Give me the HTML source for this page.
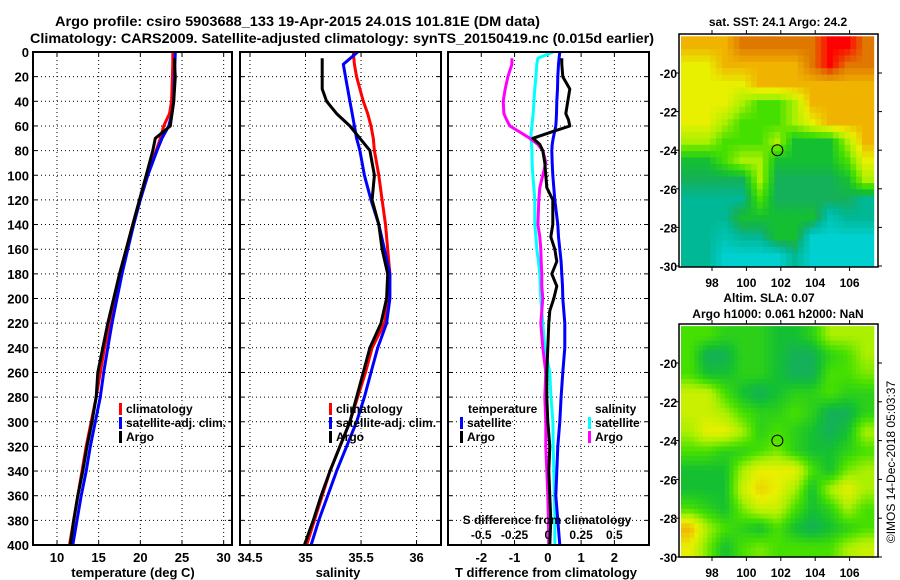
<!DOCTYPE html>
<html><head><meta charset="utf-8"><style>
html,body{margin:0;padding:0;background:#fff;}
svg{display:block;font-family:"Liberation Sans",Arial,sans-serif;font-weight:bold;}
</style></head><body>
<svg id="chart" width="900" height="580" viewBox="0 0 900 580" xmlns="http://www.w3.org/2000/svg">
<text x="55" y="26" font-size="14" textLength="485" lengthAdjust="spacingAndGlyphs">Argo profile: csiro 5903688_133 19-Apr-2015 24.01S 101.81E (DM data)</text>
<text x="30" y="43" font-size="14" textLength="624" lengthAdjust="spacingAndGlyphs">Climatology: CARS2009. Satellite-adjusted climatology: synTS_20150419.nc (0.015d earlier)</text>
<text x="778" y="26" font-size="12" text-anchor="middle">sat. SST: 24.1 Argo: 24.2</text>
<text x="769" y="302" font-size="12" text-anchor="middle">Altim. SLA: 0.07</text>
<text x="778" y="318" font-size="12" text-anchor="middle">Argo h1000: 0.061 h2000: NaN</text>
<text transform="translate(895,462) rotate(-90)" font-size="12" font-weight="normal" text-anchor="middle">©IMOS 14-Dec-2018 05:03:37</text>
<g id="layer"></g>
</svg>
<script>
// ---- profile data ----
const depthLevels = [0,10,20,30,40,50,60,70,80,100,120,140,160,180,200,220,240,260,280,300,320,340,360,380,400];
const argoDepths = [5,10,20,30,40,50,60,70,80,100,120,140,160,180,200,220,240,260,280,300,320,340,360,380,400];
const tempClim = [23.9,23.9,23.85,23.8,23.75,23.5,22.8,22.4,21.9,20.8,19.9,19.1,18.3,17.6,16.9,16.3,15.7,15.2,14.7,14.1,13.5,13.0,12.5,12.0,11.5];
const tempSat  = [24.2,24.15,24.1,24.05,24.0,23.8,23.4,22.6,22.0,20.9,20.0,19.2,18.5,17.8,17.2,16.6,16.1,15.6,15.2,14.6,14.0,13.5,12.9,12.4,11.9];
const tempArgo = [24.1,24.1,24.2,24.1,24.0,23.8,23.6,21.8,21.5,20.7,19.9,19.1,18.3,17.5,16.8,16.1,15.5,14.9,14.7,14.2,13.6,13.1,12.5,12.0,11.6];
const salClim = [35.43,35.44,35.46,35.49,35.52,35.56,35.59,35.61,35.62,35.66,35.69,35.72,35.74,35.76,35.75,35.71,35.60,35.54,35.47,35.40,35.31,35.22,35.15,35.08,35.01];
const salSat  = [35.47,35.34,35.36,35.38,35.40,35.42,35.44,35.46,35.49,35.53,35.59,35.66,35.71,35.76,35.76,35.73,35.65,35.59,35.53,35.46,35.37,35.28,35.20,35.12,35.05];
const salArgo = [35.15,35.15,35.15,35.15,35.19,35.28,35.40,35.49,35.58,35.62,35.60,35.66,35.69,35.74,35.73,35.68,35.58,35.52,35.46,35.40,35.31,35.22,35.14,35.07,34.99];
// difference panel
const diffDepths = [0,5,10,20,30,40,50,55,60,65,70,75,80,90,100,110,120,140,150,160,170,180,190,200,210,220,240,260,280,300,320,340,360,380,400];
const tDiffSat  = [0.36,0.34,0.32,0.30,0.29,0.27,0.26,0.25,0.24,0.2,0.16,0.13,0.12,0.13,0.15,0.18,0.21,0.3,0.32,0.36,0.40,0.42,0.44,0.45,0.48,0.51,0.51,0.45,0.40,0.36,0.3,0.27,0.24,0.3,0.36];
const tDiffArgo = [null,0.42,0.42,0.45,0.66,0.6,0.54,0.62,0.66,0.1,-0.45,-0.24,-0.15,-0.09,-0.06,-0.03,0.15,0.15,0.09,0.21,0.27,0.12,0.27,0.18,0.06,0.03,0.0,-0.03,-0.03,0.0,0.06,0.03,0.06,0.09,0.06];
const sDiffSat  = [0.04,-0.075,-0.083,-0.09,-0.098,-0.105,-0.11,-0.115,-0.12,-0.125,-0.128,-0.122,-0.12,-0.118,-0.113,-0.105,-0.098,-0.098,-0.09,-0.083,-0.07,-0.06,-0.056,-0.053,-0.045,-0.038,-0.023,0.015,0.023,0.038,0.04,0.045,0.05,0.052,0.053];
const sDiffArgo = [null,-0.27,-0.27,-0.30,-0.32,-0.335,-0.33,-0.31,-0.285,-0.21,-0.135,-0.075,-0.038,-0.015,-0.038,-0.06,-0.068,-0.075,-0.06,-0.053,-0.05,-0.045,-0.045,-0.038,-0.045,-0.053,-0.038,-0.015,-0.023,-0.015,-0.015,-0.008,0.0,0.004,0.008];
const depthTicks = [0,20,40,60,80,100,120,140,160,180,200,220,240,260,280,300,320,340,360,380,400];
const tempTicks = [10,15,20,25,30];
const salTicks = [34.5,35,35.5,36];
const tDiffTicks = [-2,-1,0,1,2];
const sDiffTicks = [-0.5,-0.25,0,0.25,0.5];
const sDiffTickLabels = ["-0.5","-0.25","0","0.25","0.5"];
// ---- map data (rows lat -18 → -30, cols lon 96.2 → 107.4) ----
const sstGrid = [
 [8,8,8,9,9,9,9,9,10,10,9],
 [7,7,8,8,8,8,8,9,10,9,9],
 [7,7,7,7,8,8,8,8,8,8,8],
 [7,7,7,6,5,5,6,8,8,8,8],
 [7,7,6,5,5,5,6,7,8,8,8],
 [6,6,5,5,5,6,4,4,4,6,8],
 [4,4,5,6,6,4,4,4,4,5,7],
 [3.5,3.5,3.5,3.5,6,3.5,3.5,3.5,3.5,4,6],
 [3,3,3,3,5,3.5,3.5,3.5,3.5,3.5,3],
 [3,3,3,4,4,4,4,4,2.5,3,3],
 [3,3,2.5,3,3,4,4,2,2,2,2],
 [3,3,2,2,2,2,3,2,2,2,2]];
const slaGrid = [
 [5,5,4.5,4.5,4.5,4,4,4.5,6,6,6],
 [5,3.5,3.5,4.5,4.5,4,3.5,3.5,4.5,5,6],
 [5,4,4,4.5,4.5,4,3.5,3.5,5,5,5.5],
 [6.5,6.5,5,4,3.5,4,4.5,4.5,5,4.5,4.5],
 [6.5,6.5,6,5,4.5,4.5,5,4.5,3.5,3.5,4.5],
 [6,7,7,6,4.5,5,4.5,4,3.5,4,6],
 [5,5,4.5,4.5,5,5.5,4.5,4,4,4.5,5],
 [4,4,4,6,7,7,7,5,4,5.5,6],
 [4,4,4,6.5,7.5,7,6,4,6,7,6],
 [5,4.5,4,5.5,6.5,6.5,5,4,4.5,6,5],
 [8,6,5,4.5,4,5,4,3.5,4,4.5,5],
 [7,5.5,4,5,5.5,5,5,5,5,6,6.5]];
const mapLonTicks = [98,100,102,104,106];
const mapLatTicks = [-20,-22,-24,-26,-28,-30];
const argoLon = 101.8, argoLat = -24.0;

const NS="http://www.w3.org/2000/svg";
const layer=document.getElementById('layer');
function mk(tag,attrs,parent){const e=document.createElementNS(NS,tag);for(const k in attrs)e.setAttribute(k,attrs[k]);(parent||layer).appendChild(e);return e;}

const PT=52, PB=545;
const yD=d=>PT+(d/400)*(PB-PT);
const panels=[
 {name:'temperature',x0:33,x1:232,v0:7.12,v1:31.0,ticks:tempTicks,labels:tempTicks.map(String),title:'temperature (deg C)',titleX:133},
 {name:'salinity',x0:240,x1:441,v0:34.41,v1:36.22,ticks:salTicks,labels:["34.5","35","35.5","36"],title:'salinity',titleX:338},
 {name:'difference',x0:448,x1:649,v0:-3.0,v1:3.04,ticks:tDiffTicks,labels:tDiffTicks.map(String),title:'T difference from climatology',titleX:546}
];
panels.forEach(p=>{p.sx=v=>p.x0+(v-p.v0)/(p.v1-p.v0)*(p.x1-p.x0);});

panels.forEach((p,pi)=>{
 const g=mk('g',{});
 
 
 depthTicks.forEach(d=>{
  const y=yD(d);
  if(d>0&&d<400){const l=mk('line',{x1:p.x0,x2:p.x1,y1:y,y2:y,stroke:'#000','stroke-width':1,'stroke-dasharray':'1,3'},g);
  }
  mk('line',{x1:p.x0,x2:p.x0+4,y1:y,y2:y,stroke:'#000','stroke-width':1},g);
  mk('line',{x1:p.x1-4,x2:p.x1,y1:y,y2:y,stroke:'#000','stroke-width':1},g);
  if(pi===0){const t=mk('text',{x:29,y:y+5,'font-size':13,'text-anchor':'end'},g);t.textContent=d;
   }
 });
 p.ticks.forEach((v,i)=>{
  const x=p.sx(v);
  const l=mk('line',{x1:x,x2:x,y1:PT,y2:PB,stroke:'#000','stroke-width':1,'stroke-dasharray':'1,3'},g);
  
  mk('line',{x1:x,x2:x,y1:PB-4,y2:PB,stroke:'#000'},g);
  mk('line',{x1:x,x2:x,y1:PT,y2:PT+4,stroke:'#000'},g);
  const t=mk('text',{x:x,y:562,'font-size':13,'text-anchor':'middle'},g);t.textContent=p.labels[i];
  
 });
 const tt=mk('text',{x:p.titleX,y:577,'font-size':13,'text-anchor':'middle'},g);tt.textContent=p.title;
 
 p.g=g;
});

function line(p,depths,vals,color,name,sx){
 const pts=[];depths.forEach((d,i)=>{if(vals[i]!==null)pts.push(sx(vals[i]).toFixed(1)+','+yD(d).toFixed(1));});
 const e=mk('polyline',{points:pts.join(' '),fill:'none',stroke:color,'stroke-width':3,'stroke-linejoin':'round'},p.g);
 
 
}
const P0=panels[0],P1=panels[1],P2=panels[2];
line(P0,depthLevels,tempClim,'#ff0000','temp-climatology-line',P0.sx);
line(P0,depthLevels,tempSat,'#0000ff','temp-satellite-line',P0.sx);
line(P0,argoDepths,tempArgo,'#000','temp-argo-line',P0.sx);
line(P1,depthLevels,salClim,'#ff0000','sal-climatology-line',P1.sx);
line(P1,depthLevels,salSat,'#0000ff','sal-satellite-line',P1.sx);
line(P1,argoDepths,salArgo,'#000','sal-argo-line',P1.sx);
const sxS=v=>P2.sx(v*4);
line(P2,diffDepths,sDiffSat,'#00ffff','s-diff-satellite-line',sxS);
line(P2,diffDepths,tDiffSat,'#0000ff','t-diff-satellite-line',P2.sx);
line(P2,diffDepths,sDiffArgo,'#ff00ff','s-diff-argo-line',sxS);
line(P2,diffDepths,tDiffArgo,'#000','t-diff-argo-line',P2.sx);

sDiffTicks.forEach((v,i)=>{const t=mk('text',{x:sxS(v),y:539,'font-size':12,'text-anchor':'middle'},P2.g);t.textContent=sDiffTickLabels[i];
 });
{const t=mk('text',{x:547,y:524,'font-size':12,'text-anchor':'middle'},P2.g);t.textContent='S difference from climatology';
 }

panels.forEach(p=>{mk('rect',{x:p.x0,y:PT,width:p.x1-p.x0,height:PB-PT,fill:'none',stroke:'#000','stroke-width':2},p.g);});

function legendEntry(g,x,y,color,label){
 const e=mk('g',{},g);
 
 
 mk('rect',{x:x,y:y-10,width:3,height:12,fill:color},e);
 const t=mk('text',{x:x+7,y:y,'font-size':12},e);t.textContent=label;
}
[[P0,119],[P1,329]].forEach(([p,x])=>{
 legendEntry(p.g,x,413,'#ff0000','climatology');
 legendEntry(p.g,x,427,'#0000ff','satellite-adj. clim.');
 legendEntry(p.g,x,441,'#000','Argo');
});
{const t=mk('text',{x:468,y:413,'font-size':12},P2.g);t.textContent='temperature';
 const t2=mk('text',{x:595,y:413,'font-size':12},P2.g);t2.textContent='salinity';}
legendEntry(P2.g,460,427,'#0000ff','satellite');
legendEntry(P2.g,460,441,'#000','Argo');
legendEntry(P2.g,588,427,'#00ffff','satellite');
legendEntry(P2.g,588,441,'#ff00ff','Argo');

// ---- maps ----
const cstops=[[1,[0,0,255]],[2,[0,208,208]],[3,[0,184,150]],[3.5,[20,176,90]],[4,[20,192,50]],[5,[70,224,0]],[6,[170,240,0]],[7,[232,240,0]],[8,[240,180,0]],[9,[224,120,0]],[10,[255,0,0]]];
function cmap(v){for(let i=1;i<cstops.length;i++){if(v<=cstops[i][0]){const a=cstops[i-1],b=cstops[i];const f=(v-a[0])/(b[0]-a[0]);const c=a[1].map((q,k)=>Math.round(q+(b[1][k]-q)*f));return 'rgb('+c.join(',')+')';}}return 'rgb(255,0,0)';}
function sample(grid,fr,fc){
 const nr=grid.length,nc=grid[0].length;
 const r=Math.min(Math.max(fr-0.5,0),nr-1),c=Math.min(Math.max(fc-0.5,0),nc-1);
 const r0=Math.floor(r),c0=Math.floor(c),r1=Math.min(r0+1,nr-1),c1=Math.min(c0+1,nc-1);
 const a=r-r0,b=c-c0;
 return grid[r0][c0]*(1-a)*(1-b)+grid[r0][c1]*(1-a)*b+grid[r1][c0]*a*(1-b)+grid[r1][c1]*a*b;
}
function drawMap(name,grid,box,sub){
 const g=mk('g',{});
 const lonX=lon=>box.lx+(lon-98)*17.2;
 const latY=lat=>box.ly+(-20-lat)*box.sy;
 const lon0=96.2,lon1=107.4,lat0=-18.1,lat1=-30;
 const nr=grid.length*sub,nc=grid[0].length*sub;
 for(let r=0;r<nr;r++)for(let c=0;c<nc;c++){
  const v=sub===1?grid[r][c]:sample(grid,(r+0.5)/sub,(c+0.5)/sub);
  const xa=lonX(lon0+(lon1-lon0)*c/nc),xb=lonX(lon0+(lon1-lon0)*(c+1)/nc);
  const ya=latY(lat0+(lat1-lat0)*r/nr),yb=latY(lat0+(lat1-lat0)*(r+1)/nr);
  const cell=mk('rect',{x:xa.toFixed(1),y:ya.toFixed(1),width:(xb-xa+0.6).toFixed(1),height:(yb-ya+0.6).toFixed(1),fill:cmap(v)},g);
  
  
 }
 mk('rect',{x:box.x0,y:box.y0,width:box.x1-box.x0,height:box.y1-box.y0,fill:'none',stroke:'#000','stroke-width':1.5},g);
 mapLonTicks.forEach(l=>{const x=lonX(l);mk('line',{x1:x,x2:x,y1:box.y1,y2:box.y1+4,stroke:'#000'},g);mk('line',{x1:x,x2:x,y1:box.y0-4,y2:box.y0,stroke:'#000'},g);
  const t=mk('text',{x:x,y:box.y1+20,'font-size':12,'text-anchor':'middle'},g);t.textContent=l;});
 mapLatTicks.forEach(l=>{const y=latY(l);mk('line',{x1:box.x0-3,x2:box.x0,y1:y,y2:y,stroke:'#000'},g);mk('line',{x1:box.x1,x2:box.x1+4,y1:y,y2:y,stroke:'#000'},g);
  const t=mk('text',{x:677,y:y+5,'font-size':12,'text-anchor':'end'},g);t.textContent=l;});
 const m=mk('circle',{cx:lonX(argoLon),cy:latY(argoLat),r:5.5,fill:'none',stroke:'#000','stroke-width':1},g);
 
}
drawMap('sst-map',sstGrid,{x0:679,x1:878,y0:34,y1:267,lx:712,ly:73,sy:19.3},3);
drawMap('sla-map',slaGrid,{x0:679,x1:878,y0:324,y1:557,lx:712,ly:363,sy:19.4},4);
</script>
</body></html>
